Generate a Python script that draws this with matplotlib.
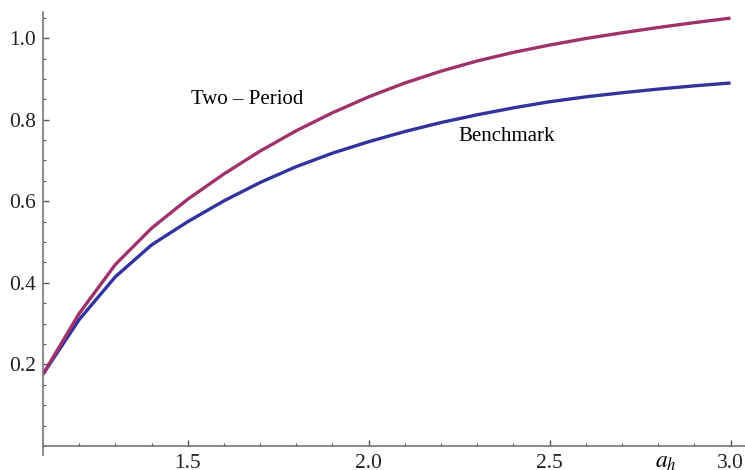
import matplotlib.pyplot as plt
from matplotlib.ticker import MultipleLocator, FixedLocator

# valores
a_h = [1.1, 1.2, 1.3, 1.4, 1.5, 1.6, 1.7, 1.8, 1.9, 2.0,
       2.1, 2.2, 2.3, 2.4, 2.5, 2.6, 2.7, 2.8, 2.9, 3.0]
two_period = [0.176, 0.325, 0.445, 0.534, 0.605, 0.667, 0.723, 0.773, 0.817, 0.856,
              0.890, 0.919, 0.944, 0.965, 0.983, 0.999, 1.013, 1.026, 1.038, 1.049]
benchmark = [0.176, 0.310, 0.415, 0.493, 0.550, 0.601, 0.646, 0.685, 0.718, 0.746,
             0.771, 0.793, 0.812, 0.829, 0.844, 0.856, 0.866, 0.875, 0.883, 0.890]
x_ticks = [1.5, 2.0, 2.5, 3.0]
y_ticks = [0.2, 0.4, 0.6, 0.8, 1.0]

plt.rcParams['font.family'] = 'Liberation Serif'
plt.rcParams['mathtext.fontset'] = 'stix'

fig = plt.figure(figsize=(7.45, 4.70), dpi=100)
ax = fig.add_axes([43 / 745, 15 / 470, 702 / 745, 443 / 470])

ax.plot(a_h, benchmark, color=(0.2, 0.2, 0.62), lw=2.4, solid_capstyle='butt')
ax.plot(a_h, two_period, color=(0.62, 0.2, 0.42), lw=2.4, solid_capstyle='butt')

ax.text(1.664, 0.849, 'Two – Period', fontsize=15, ha='center', va='center')
ax.text(2.382, 0.759, 'Benchmark', fontsize=15, ha='center', va='center')
ax.text(2.82, -0.04, '$a_h$', fontsize=17, ha='center', va='center')

ax.set_xlim(1.1, 3.04)
ax.set_ylim(-0.022, 1.064)

# ejes estilo Mathematica
for s in ['top', 'right']:
    ax.spines[s].set_visible(False)
ax.spines['left'].set_position(('data', 1.1))
ax.spines['bottom'].set_position(('data', 0))
for s in ['left', 'bottom']:
    ax.spines[s].set_color('#777777')
    ax.spines[s].set_linewidth(1.2)

ax.xaxis.set_major_locator(FixedLocator(x_ticks))
ax.yaxis.set_major_locator(FixedLocator(y_ticks))
ax.xaxis.set_minor_locator(MultipleLocator(0.1))
ax.yaxis.set_minor_locator(MultipleLocator(0.05))
ax.set_xticklabels(['%.1f' % v for v in x_ticks])
ax.set_yticklabels(['%.1f' % v for v in y_ticks])
ax.tick_params(which='both', direction='in', color='#555555', labelsize=15.5, labelcolor='#222222')
ax.tick_params(which='major', length=4, width=1)
ax.tick_params(which='minor', length=2.5, width=0.8)
ax.tick_params(axis='x', pad=6)
ax.tick_params(axis='y', pad=5)

fig.savefig('out.png', dpi=100)
